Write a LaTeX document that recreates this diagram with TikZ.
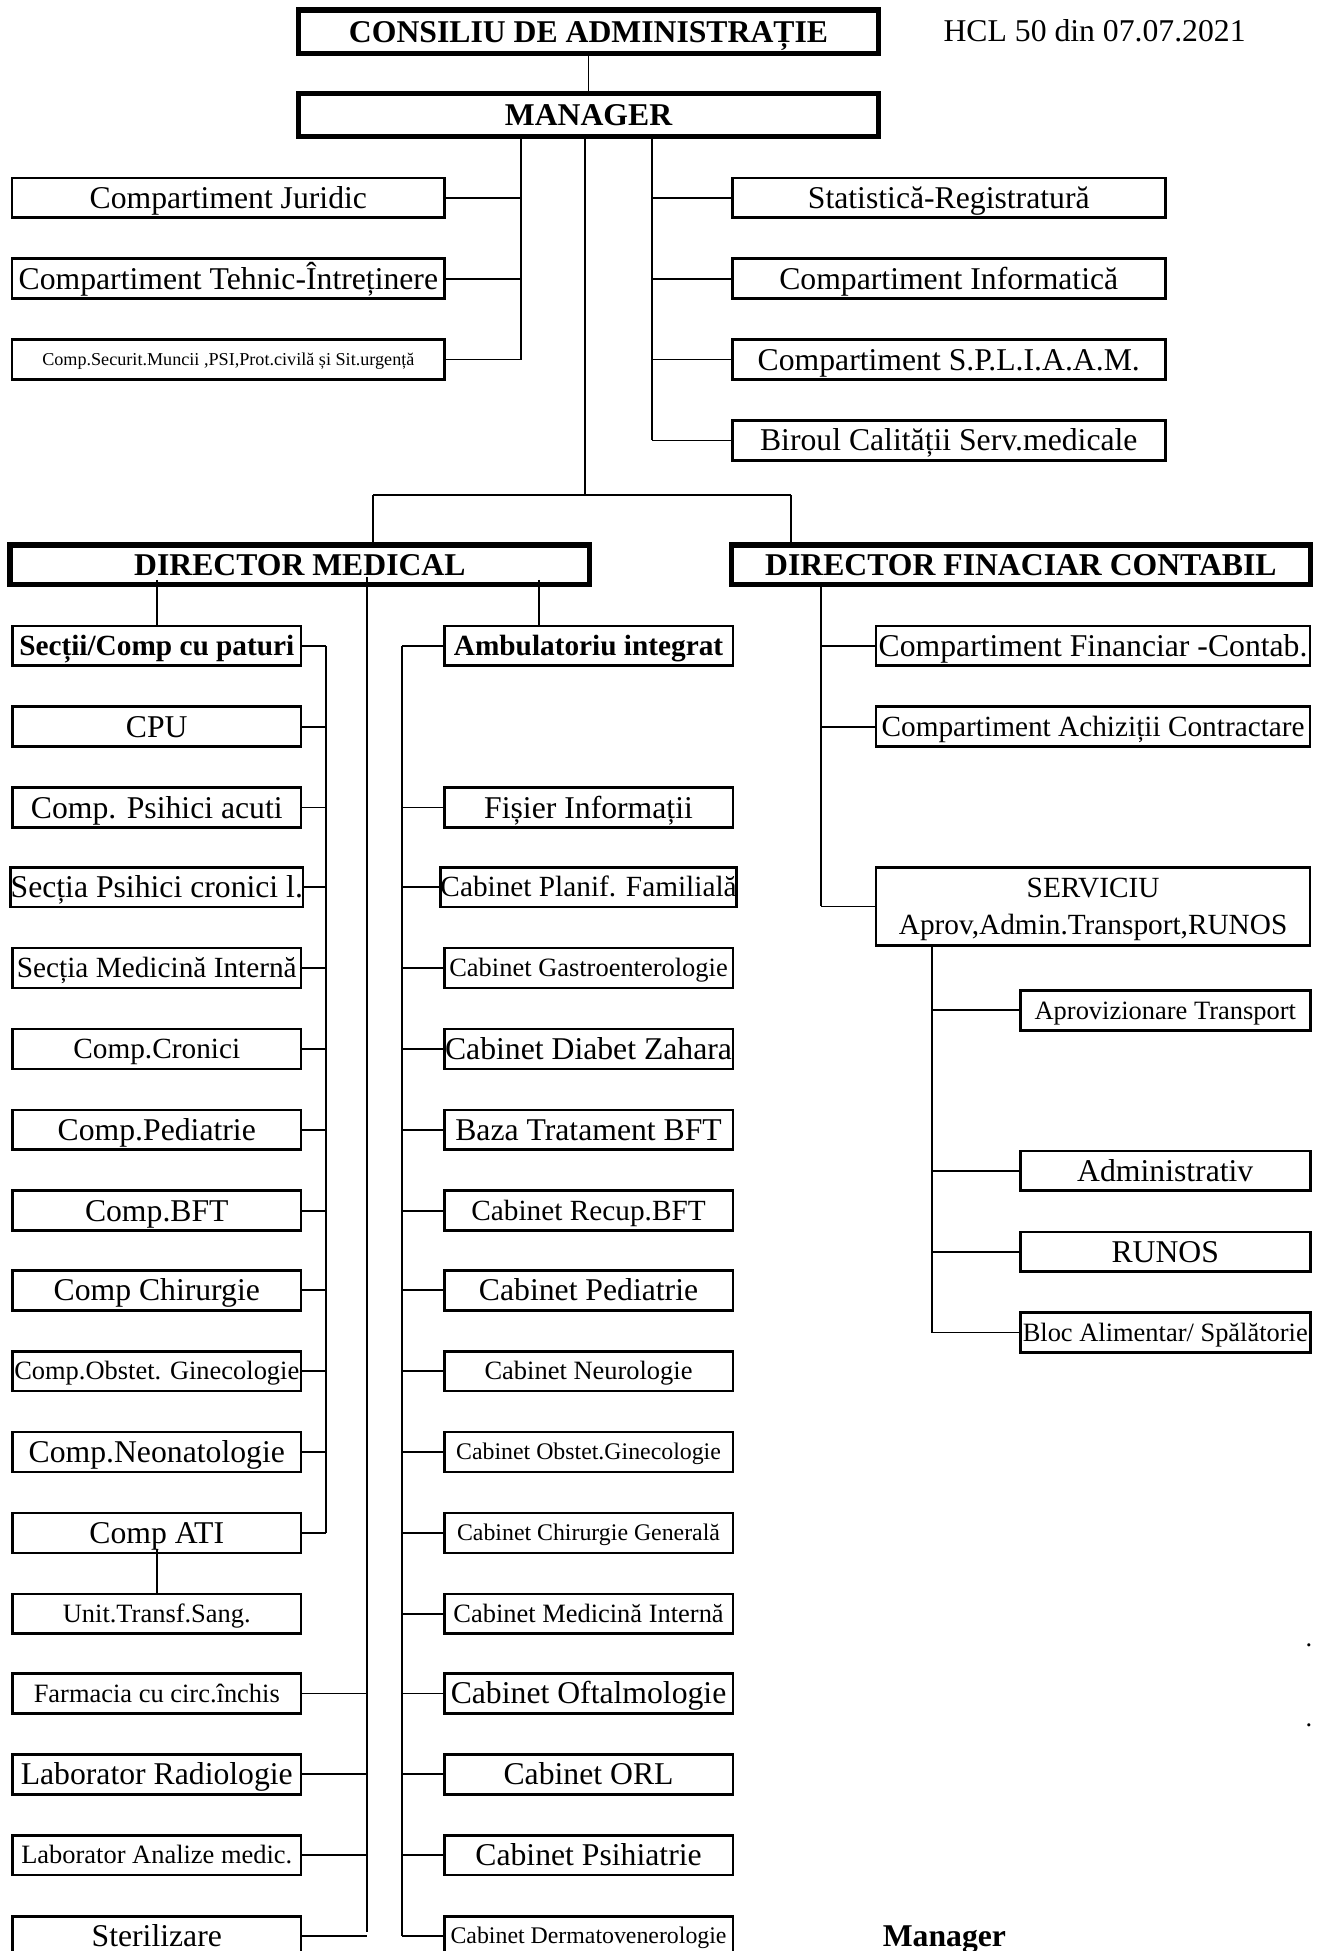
\documentclass[tikz,border=0pt]{standalone}
\usepackage{fontspec}
\setmainfont{Liberation Serif}
\usetikzlibrary{calc}

\newcommand{\szbig}{\fontsize{14.5}{17}\selectfont}
\newcommand{\szmid}{\fontsize{13.4}{16.8}\selectfont}
\newcommand{\szsmall}{\fontsize{12.1}{14}\selectfont}
\newcommand{\sztiny}{\fontsize{10.9}{13}\selectfont}
\newcommand{\szmini}{\fontsize{8.3}{10}\selectfont}

\tikzset{
  unit/.style={draw, line width=1.2pt, inner sep=0pt, minimum height=0.64cm, text height=9.6pt, text depth=0pt, font=\szbig},
  head/.style={draw, line width=2.4pt, inner sep=0pt, minimum width=9.32cm, minimum height=0.66cm, text height=9.6pt, text depth=0pt, font=\szbig\bfseries},
  wide/.style={unit, minimum width=6.96cm},
  col/.style={unit, minimum width=4.64cm},
  fmid/.style={font=\szmid, text height=8.9pt},
  fsmall/.style={font=\szsmall, text height=8pt},
  ftiny/.style={font=\sztiny, text height=7.2pt},
  fmini/.style={font=\szmini, text height=5.5pt},
  link/.style={line width=0.8pt}
}

\begin{document}
\begin{tikzpicture}[x=0.02cm, y=-0.02cm]
\useasboundingbox (0,0) rectangle (1062,1568);

% Top
\node[head, minimum height=0.7cm] (consiliu) at (473,25.5) {CONSILIU DE ADMINISTRAȚIE};
\node[font=\szbig, anchor=west, inner sep=0pt] (hcl) at (758,25) {HCL 50 din 07.07.2021};
\node[head, minimum height=0.7cm] (manager) at (473,92.5) {MANAGER};
\draw[link] (consiliu.south) -- (manager.north);

% Compartments under the manager
\node[wide] (juridic) at (183.5,159) {Compartiment Juridic};
\node[wide] (tehnic) at (183.5,224) {Compartiment Tehnic-Întreținere};
\node[wide, fmini] (securit) at (183.5,289) {Comp.Securit.Muncii ,PSI,Prot.civilă și Sit.urgență};
\node[wide] (statist) at (762.5,159) {Statistică-Registratură};
\node[wide] (inform) at (762.5,224) {Compartiment Informatică};
\node[wide] (spliaam) at (762.5,289) {Compartiment S.P.L.I.A.A.M.};
\node[wide] (calitate) at (762.5,354) {Biroul Calității Serv.medicale};

\coordinate (lbus) at (419,289);
\coordinate (rbus) at (524,354);
\draw[link] (manager.south -| lbus) -- (lbus);
\draw[link] (manager.south -| rbus) -- (rbus);
\draw[link] (juridic.east) -- (juridic.east -| lbus) (tehnic.east) -- (tehnic.east -| lbus)
  (securit.east) -- (securit.east -| lbus);
\draw[link] (statist.west) -- (statist.west -| rbus) (inform.west) -- (inform.west -| rbus)
  (spliaam.west) -- (spliaam.west -| rbus) (calitate.west) -- (calitate.west -| rbus);

% Directors
\node[head, minimum height=0.64cm] (dm) at (241,454) {DIRECTOR MEDICAL};
\node[head, minimum width=9.3cm, minimum height=0.64cm] (dfc) at (820.5,454) {DIRECTOR FINACIAR CONTABIL};
\coordinate (split) at (470,398);
\coordinate (dmtop) at (300,398);
\coordinate (dftop) at (636,398);
\draw[link] (manager.south -| split) -- (split);
\draw[link] (dmtop) -- (dftop);
\draw[link] (dmtop) -- (dmtop |- dm.north);
\draw[link] (dftop) -- (dftop |- dfc.north);

% Sectii / compartimente cu paturi
\node[col, fmid, font=\szmid\bfseries] (sectii) at (126,519) {Secții/Comp cu paturi};
\node[col] (cpu) at (126,584) {CPU};
\node[col] (acuti) at (126,649) {Comp. Psihici acuti};
\node[col] (cronlt) at (126,713) {Secția Psihici cronici l.};
\node[col, fmid] (interna) at (126,778) {Secția Medicină Internă};
\node[col, fmid] (cronici) at (126,843) {Comp.Cronici};
\node[col] (pediatrie) at (126,908) {Comp.Pediatrie};
\node[col] (bft) at (126,973) {Comp.BFT};
\node[col] (chirurgie) at (126,1037) {Comp Chirurgie};
\node[col, fsmall] (obstet) at (126,1102) {Comp.Obstet. Ginecologie};
\node[col] (neonat) at (126,1167) {Comp.Neonatologie};
\node[col] (ati) at (126,1232) {Comp ATI};
\node[col, fsmall] (sang) at (126,1297) {Unit.Transf.Sang.};
\node[col, fsmall] (farmacia) at (126,1361) {Farmacia cu circ.închis};
\node[col] (radiologie) at (126,1426) {Laborator Radiologie};
\node[col, fsmall] (analize) at (126,1491) {Laborator Analize medic.};
\node[col] (sterilizare) at (126,1556) {Sterilizare};

\coordinate (bus1) at (262,1232);
\coordinate (bus2) at (295,1553);
\draw[link] ($(dm.south -| sectii.north)+(0,-6)$) -- (sectii.north);
\draw[link] (sectii.east -| bus1) -- (bus1);
\draw[link] (sectii.east) -- (sectii.east -| bus1) (cpu.east) -- (cpu.east -| bus1)
  (acuti.east) -- (acuti.east -| bus1) (cronlt.east) -- (cronlt.east -| bus1)
  (interna.east) -- (interna.east -| bus1) (cronici.east) -- (cronici.east -| bus1)
  (pediatrie.east) -- (pediatrie.east -| bus1) (bft.east) -- (bft.east -| bus1)
  (chirurgie.east) -- (chirurgie.east -| bus1) (obstet.east) -- (obstet.east -| bus1)
  (neonat.east) -- (neonat.east -| bus1) (ati.east) -- (ati.east -| bus1);
\draw[link] ($(ati.south)+(0,-4)$) -- (sang.north);
\draw[link] ($(dm.south -| bus2)+(0,-8)$) -- (bus2);
\draw[link] (farmacia.east) -- (farmacia.east -| bus2) (radiologie.east) -- (radiologie.east -| bus2)
  (analize.east) -- (analize.east -| bus2) (sterilizare.east) -- (sterilizare.east -| bus2);

% Ambulatoriu
\node[col, fmid, font=\szmid\bfseries] (ambul) at (473,519) {Ambulatoriu integrat};
\node[col] (fisier) at (473,649) {Fișier Informații};
\node[col, fmid] (planif) at (473,713) {Cabinet Planif. Familială};
\node[col, fsmall] (gastro) at (473,778) {Cabinet Gastroenterologie};
\node[col] (diabet) at (473,843) {Cabinet Diabet Zahara};
\node[col] (baza) at (473,908) {Baza Tratament BFT};
\node[col, fmid] (recup) at (473,973) {Cabinet Recup.BFT};
\node[col] (cabped) at (473,1037) {Cabinet Pediatrie};
\node[col, fsmall] (neuro) at (473,1102) {Cabinet Neurologie};
\node[col, ftiny] (cabobst) at (473,1167) {Cabinet Obstet.Ginecologie};
\node[col, ftiny] (cabchir) at (473,1232) {Cabinet Chirurgie Generală};
\node[col, fsmall] (cabint) at (473,1297) {Cabinet Medicină Internă};
\node[col] (oftalmo) at (473,1361) {Cabinet Oftalmologie};
\node[col] (orl) at (473,1426) {Cabinet ORL};
\node[col] (psihiatrie) at (473,1491) {Cabinet Psihiatrie};
\node[col, ftiny] (dermato) at (473,1556) {Cabinet Dermatovenerologie};

\coordinate (ambtop) at (433,503);
\coordinate (bus3) at (323,1556);
\draw[link] ($(dm.south -| ambtop)+(0,-6)$) -- (ambtop |- ambul.north);
\draw[link] (ambul.west -| bus3) -- (bus3);
\draw[link] (ambul.west) -- (ambul.west -| bus3) (fisier.west) -- (fisier.west -| bus3)
  (planif.west) -- (planif.west -| bus3) (gastro.west) -- (gastro.west -| bus3)
  (diabet.west) -- (diabet.west -| bus3) (baza.west) -- (baza.west -| bus3)
  (recup.west) -- (recup.west -| bus3) (cabped.west) -- (cabped.west -| bus3)
  (neuro.west) -- (neuro.west -| bus3) (cabobst.west) -- (cabobst.west -| bus3)
  (cabchir.west) -- (cabchir.west -| bus3) (cabint.west) -- (cabint.west -| bus3)
  (oftalmo.west) -- (oftalmo.west -| bus3) (orl.west) -- (orl.west -| bus3)
  (psihiatrie.west) -- (psihiatrie.west -| bus3) (dermato.west) -- (dermato.west -| bus3);

% Financiar contabil
\node[wide, minimum width=6.98cm] (financiar) at (878.5,519) {Compartiment Financiar -Contab.};
\node[wide, minimum width=6.98cm, fmid] (achizitii) at (878.5,584) {Compartiment Achiziții Contractare};
\node[draw, line width=1.2pt, inner sep=0pt, minimum width=6.98cm, minimum height=1.26cm, text depth=0pt, align=center, font=\szmid] (serviciu) at (878.5,728.5) {SERVICIU\\Aprov,Admin.Transport,RUNOS};
\node[col, minimum width=4.66cm, fsmall] (aprov) at (936.5,812) {Aprovizionare Transport};
\node[col, minimum width=4.66cm] (admin) at (936.5,941) {Administrativ};
\node[col, minimum width=4.66cm] (runos) at (936.5,1006) {RUNOS};
\node[col, minimum width=4.66cm, fsmall] (bloc) at (936.5,1071) {Bloc Alimentar/ Spălătorie};

\coordinate (bus4) at (660,728.5);
\coordinate (bus5) at (749,1071);
\draw[link] (dfc.south -| bus4) -- (bus4);
\draw[link] (financiar.west) -- (financiar.west -| bus4) (achizitii.west) -- (achizitii.west -| bus4)
  (serviciu.west) -- (bus4);
\draw[link] (serviciu.south -| bus5) -- (bus5);
\draw[link] (aprov.west) -- (aprov.west -| bus5) (admin.west) -- (admin.west -| bus5)
  (runos.west) -- (runos.west -| bus5) (bloc.west) -- (bloc.west -| bus5);

% Signature
\node[font=\szbig\bfseries, text height=9.6pt, text depth=0pt] (semn) at (759,1556) {Manager};
\node[font=\szsmall] (dota) at (1052,1322) {.};
\node[font=\szsmall] (dotb) at (1052,1387) {.};
\end{tikzpicture}
\end{document}
